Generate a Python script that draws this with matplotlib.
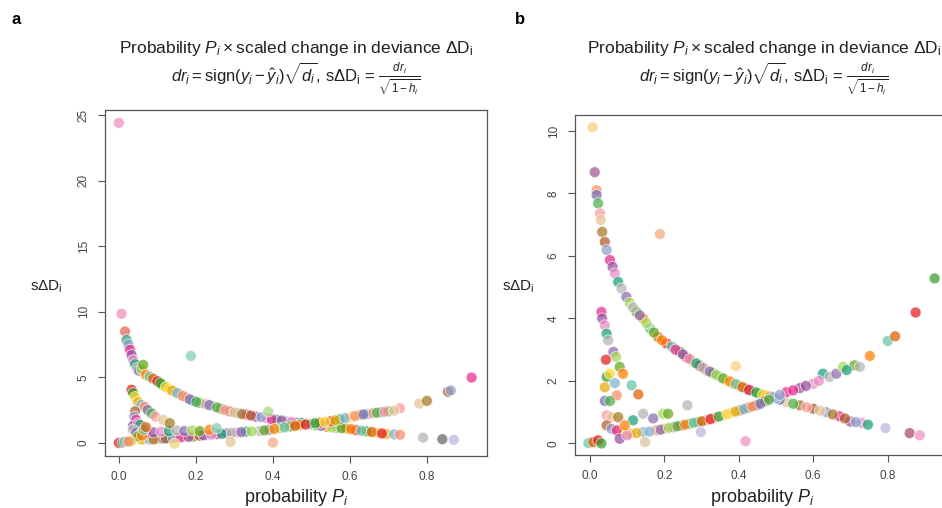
import matplotlib
matplotlib.use("Agg")
import matplotlib.pyplot as plt
import numpy as np

plt.rcParams['font.family'] = ['Liberation Sans', 'DejaVu Sans']
plt.rcParams['mathtext.fontset'] = 'custom'
plt.rcParams['mathtext.rm'] = 'Liberation Sans'
plt.rcParams['mathtext.it'] = 'Liberation Sans:italic'
plt.rcParams['mathtext.bf'] = 'Liberation Sans:bold'

# ---------------- Panel a data ----------------
a_upper_x = [0.000, 0.007, 0.016, 0.020, 0.025, 0.029, 0.033, 0.037, 0.042, 0.047, 0.052, 0.059, 0.063,
             0.070, 0.080, 0.089, 0.100, 0.115, 0.130, 0.145, 0.158, 0.175, 0.193, 0.210, 0.225, 0.245,
             0.265, 0.288, 0.310, 0.332, 0.355, 0.384, 0.410, 0.436, 0.460, 0.487, 0.510, 0.540, 0.565,
             0.590, 0.615, 0.643, 0.670, 0.695, 0.715, 0.730,
             0.235, 0.255, 0.276, 0.300, 0.320, 0.343, 0.370, 0.397, 0.423, 0.448, 0.474, 0.500,
             0.525, 0.553, 0.578, 0.603, 0.630, 0.657, 0.683, 0.108, 0.122, 0.138, 0.151, 0.166, 0.184, 0.201]
a_upper_y = [24.4, 9.85, 8.5, 7.85, 7.5, 7.1, 6.7, 6.3, 6.0, 5.7, 5.5, 5.6, 5.95,
             5.2, 5.05, 4.9, 4.7, 4.4, 4.1, 3.9, 3.7, 3.45, 3.2, 3.05, 2.95, 2.8,
             2.6, 2.4, 2.25, 2.15, 2.0, 1.88, 1.75, 1.63, 1.55, 1.5, 1.35, 1.22, 1.15,
             1.1, 0.98, 0.88, 0.78, 0.68, 0.65, 0.62,
             2.88, 2.70, 2.50, 2.32, 2.20, 2.08, 1.95, 1.80, 1.70, 1.60, 1.52, 1.42,
             1.30, 1.18, 1.12, 1.05, 0.92, 0.83, 0.72, 4.55, 4.25, 4.0, 3.8, 3.58, 3.32, 3.12]
a_lower_x = [0.040, 0.060, 0.080, 0.100, 0.115, 0.130, 0.150, 0.170, 0.193, 0.210, 0.230, 0.254, 0.280,
             0.306, 0.330, 0.366, 0.390, 0.418, 0.445, 0.470, 0.500, 0.522, 0.550, 0.574, 0.600, 0.626,
             0.645, 0.660, 0.682, 0.700, 0.730, 0.780, 0.800, 0.855, 0.862, 0.916,
             0.220, 0.240, 0.267, 0.293, 0.318, 0.345, 0.378, 0.404, 0.430, 0.458, 0.485, 0.510,
             0.535, 0.562, 0.587, 0.613, 0.635, 0.670, 0.690, 0.715, 0.090, 0.122, 0.140, 0.160, 0.181]
a_lower_y = [0.30, 0.25, 0.25, 0.30, 0.32, 0.36, 0.40, 0.44, 0.48, 0.55, 0.60, 0.66, 0.72,
             0.79, 0.85, 0.91, 1.00, 1.12, 1.25, 1.37, 1.45, 1.55, 1.65, 1.80, 1.95, 2.13,
             2.20, 2.26, 2.34, 2.40, 2.64, 3.00, 3.20, 3.90, 4.00, 4.98,
             0.58, 0.63, 0.69, 0.76, 0.82, 0.88, 0.95, 1.06, 1.18, 1.30, 1.40, 1.50,
             1.60, 1.72, 1.88, 2.05, 2.17, 2.30, 2.37, 2.45, 0.27, 0.34, 0.38, 0.42, 0.46]
a_band_x = [0.070, 0.090, 0.110, 0.130, 0.150, 0.170, 0.190, 0.210, 0.235]
a_band_y = [0.75, 0.80, 0.85, 0.90, 0.95, 0.90, 0.95, 0.90, 1.00]
a_steep_x = [0.033, 0.037, 0.042, 0.050, 0.058, 0.067, 0.075, 0.085, 0.095, 0.115, 0.132]
a_steep_y = [4.05, 3.80, 3.50, 3.10, 2.90, 2.75, 2.50, 2.25, 2.00, 1.75, 1.50]
a_clust_x = [0.042, 0.040, 0.045, 0.037, 0.050, 0.055, 0.037, 0.045, 0.058, 0.050, 0.060, 0.065, 0.070,
             0.000, 0.010, 0.020, 0.030, 0.015, 0.025]
a_clust_y = [2.40, 2.00, 1.75, 1.30, 1.50, 1.37, 1.00, 0.80, 0.74, 0.50, 0.55, 1.00, 1.20,
             0.00, 0.02, 0.05, 0.13, 0.08, 0.10]
a_iso_x = [0.187, 0.388, 0.254, 0.400, 0.790, 0.840, 0.870, 0.145, 0.290]
a_iso_y = [6.63, 2.39, 1.12, 0.02, 0.40, 0.28, 0.23, -0.07, 0.08]
a_iso_c = ['#7FCDB0', '#A6D88A', '#7FCDB0', '#F4A582', '#B3B3B3', '#666666', '#BDB5E0', '#F6D07A', '#E5C494']

# ---------------- Panel b data ----------------
b_upper_x = [0.007, 0.013, 0.018, 0.018, 0.022, 0.027, 0.029, 0.033, 0.040, 0.045, 0.054, 0.061, 0.067,
             0.076, 0.085, 0.098, 0.107, 0.125, 0.143, 0.161, 0.183, 0.206, 0.242, 0.277, 0.313, 0.349,
             0.385, 0.420, 0.456, 0.492, 0.528, 0.564, 0.600, 0.635, 0.670, 0.700, 0.730, 0.747,
             0.116, 0.134, 0.152, 0.172, 0.194, 0.220, 0.260, 0.295, 0.330, 0.367, 0.400, 0.438,
             0.474, 0.510, 0.546, 0.582, 0.618, 0.652, 0.685, 0.715, 0.230, 0.250, 0.268, 0.286,
             0.304, 0.322, 0.340, 0.358, 0.376, 0.392, 0.410, 0.428, 0.447, 0.465, 0.483, 0.500]
b_upper_y = [10.12, 8.68, 8.10, 7.95, 7.68, 7.36, 7.15, 6.77, 6.45, 6.19, 5.87, 5.65, 5.44,
             5.17, 4.96, 4.69, 4.50, 4.21, 4.00, 3.68, 3.41, 3.20, 2.93, 2.61, 2.34, 2.13,
             1.91, 1.75, 1.59, 1.48, 1.32, 1.22, 1.11, 1.00, 0.87, 0.70, 0.66, 0.60,
             4.35, 4.10, 3.85, 3.55, 3.30, 3.10, 2.75, 2.48, 2.25, 2.02, 1.85, 1.67,
             1.53, 1.40, 1.27, 1.16, 1.05, 0.93, 0.80, 0.68, 3.00, 2.85, 2.70, 2.56,
             2.42, 2.30, 2.19, 2.08, 1.98, 1.90, 1.80, 1.71, 1.63, 1.56, 1.50, 1.44]
b_lower_x = [0.076, 0.107, 0.143, 0.179, 0.224, 0.268, 0.313, 0.358, 0.403, 0.447, 0.492, 0.528, 0.564,
             0.600, 0.626, 0.644, 0.662, 0.680, 0.711, 0.752, 0.800, 0.820, 0.875, 0.926,
             0.090, 0.125, 0.160, 0.200, 0.245, 0.290, 0.335, 0.380, 0.425, 0.470, 0.510, 0.546,
             0.580, 0.615, 0.690, 0.725, 0.190, 0.212, 0.235, 0.256, 0.279, 0.301, 0.324, 0.346,
             0.369, 0.391, 0.414, 0.436, 0.458, 0.481]
b_lower_y = [0.42, 0.31, 0.36, 0.42, 0.52, 0.63, 0.74, 0.90, 1.06, 1.22, 1.48, 1.64, 1.77,
             1.91, 2.23, 2.13, 2.23, 2.45, 2.50, 2.80, 3.28, 3.43, 4.19, 5.28,
             0.36, 0.33, 0.38, 0.47, 0.57, 0.68, 0.82, 0.98, 1.14, 1.35, 1.55, 1.70,
             1.84, 2.00, 2.35, 2.45, 0.44, 0.50, 0.55, 0.60, 0.66, 0.71, 0.78, 0.86,
             0.94, 1.02, 1.10, 1.18, 1.27, 1.40]
b_steep_x = [0.031, 0.033, 0.040, 0.045, 0.049, 0.063, 0.070, 0.080, 0.089, 0.112, 0.130]
b_steep_y = [4.21, 4.00, 3.78, 3.51, 3.30, 2.93, 2.77, 2.45, 2.23, 1.86, 1.57]
b_clust_x = [0.043, 0.045, 0.054, 0.040, 0.067, 0.072, 0.040, 0.054, 0.045, 0.058, 0.076, 0.045, 0.058,
             0.072, 0.080, 0.100, 0.116, 0.143, 0.170, 0.197, 0.210, 0.094,
             -0.004, 0.009, 0.022, 0.031]
b_clust_y = [2.68, 2.13, 2.23, 1.80, 1.93, 1.54, 1.36, 1.36, 0.90, 0.84, 0.84, 0.58, 0.47,
             0.42, 0.15, 0.26, 0.74, 0.95, 0.80, 0.95, 0.95, 0.58,
             0.01, 0.04, 0.10, 0.00]
b_iso_x = [0.188, 0.392, 0.262, 0.298, 0.418, 0.794, 0.859, 0.886, 0.148]
b_iso_y = [6.70, 2.47, 1.22, 0.36, 0.07, 0.49, 0.33, 0.26, 0.04]
b_iso_c = ['#F0A97A', '#F6D07A', '#B3B3B3', '#BDB5E0', '#F08CC0', '#BDB5E0', '#A8476A', '#F08CC0', '#D8C29D']

palette = ['#E78AC3', '#66C2A5', '#FC8D62', '#8DA0CB', '#A6D854', '#FFD92F', '#E5C494', '#1B9E77',
           '#D95F02', '#7570B3', '#E7298A', '#66A61E', '#E6AB02', '#A6761D', '#B3B3B3', '#E41A1C',
           '#4DAF4A', '#984EA3', '#FF7F00', '#80B1D3', '#B15928', '#8C6BB1', '#33A02C', '#FB9A99']


def cols(n, offset):
    return [palette[(offset + 7 * i) % len(palette)] for i in range(n)]


fig = plt.figure(figsize=(9.42, 5.08), dpi=100)

W, H = 942.0, 508.0
ax_a = fig.add_axes([105 / W, (H - 456) / H, (487 - 105) / W, (456 - 110) / H])
ax_b = fig.add_axes([575 / W, (H - 455) / H, (948 - 575) / W, (455 - 115) / H])

kw = dict(s=62, alpha=0.72, edgecolors='white', linewidths=0.6, zorder=3)


def draw(ax, groups):
    off = 0
    for gx, gy, gc in groups:
        c = gc if gc is not None else cols(len(gx), off)
        ax.scatter(gx, gy, c=c, **kw)
        off += 5


a_first = ['#F08CC0', '#F08CC0', '#E8645A', '#2E9E7E'] + cols(len(a_upper_x) - 4, 3)
draw(ax_a, [(a_upper_x, a_upper_y, a_first),
            (a_lower_x, a_lower_y, None),
            (a_band_x, a_band_y, None),
            (a_steep_x, a_steep_y, None),
            (a_clust_x, a_clust_y, None),
            (a_iso_x, a_iso_y, a_iso_c)])
b_first = ['#F6D07A', '#A0588C'] + cols(len(b_upper_x) - 2, 2)
draw(ax_b, [(b_upper_x, b_upper_y, b_first),
            (b_lower_x, b_lower_y, None),
            (b_steep_x, b_steep_y, None),
            (b_clust_x, b_clust_y, None),
            (b_iso_x, b_iso_y, b_iso_c)])

ax_a.set_xlim(-0.036, 0.956)
ax_a.set_ylim(-1.0, 25.38)
ax_a.set_xticks([0.0, 0.2, 0.4, 0.6, 0.8])
ax_a.set_yticks([0, 5, 10, 15, 20, 25])
ax_b.set_xlim(-0.040, 0.962)
ax_b.set_ylim(-0.37, 10.51)
ax_b.set_xticks([0.0, 0.2, 0.4, 0.6, 0.8])
ax_b.set_yticks([0, 2, 4, 6, 8, 10])

for ax in (ax_a, ax_b):
    ax.set_xticklabels(['0.0', '0.2', '0.4', '0.6', '0.8'])
    for sp in ax.spines.values():
        sp.set_color('#555555')
        sp.set_linewidth(0.9)
    ax.tick_params(direction='out', length=5, width=0.8, color='#555555',
                   labelcolor='#444444', labelsize=8.5, pad=6)
    for lab in ax.get_yticklabels():
        lab.set_rotation(90)
        lab.set_va('center')

# titles
t1 = r"Probability $P_i\times$scaled change in deviance $\Delta$D$_\mathrm{i}$"
t2 = r"$dr_i = \mathrm{sign}(y_i - \hat{y}_i)\sqrt{d_i}$, s$\Delta$D$_\mathrm{i}$ = $\frac{dr_i}{\sqrt{1-h_i}}$"
for cx in (296 / W, 764 / W):
    fig.text(cx, 1 - 48 / H, t1, ha='center', va='center', fontsize=12.5, color='#222222')
    fig.text(cx, 1 - 79 / H, t2, ha='center', va='center', fontsize=12, color='#222222')

# y labels
fig.text(46 / W, 1 - 287 / H, r"s$\Delta$D$_\mathrm{i}$", ha='center', va='center', fontsize=11, color='#222222')
fig.text(518 / W, 1 - 287 / H, r"s$\Delta$D$_\mathrm{i}$", ha='center', va='center', fontsize=11, color='#222222')

# x labels
fig.text(296 / W, 1 - 497 / H, r"probability $P_i$", ha='center', va='center', fontsize=13, color='#222222')
fig.text(762 / W, 1 - 497 / H, r"probability $P_i$", ha='center', va='center', fontsize=13, color='#222222')

# panel letters
fig.text(12 / W, 1 - 20 / H, 'a', ha='left', va='center', fontsize=12, fontweight='bold')
fig.text(515 / W, 1 - 20 / H, 'b', ha='left', va='center', fontsize=12, fontweight='bold')

fig.savefig('out.png', dpi=100)
